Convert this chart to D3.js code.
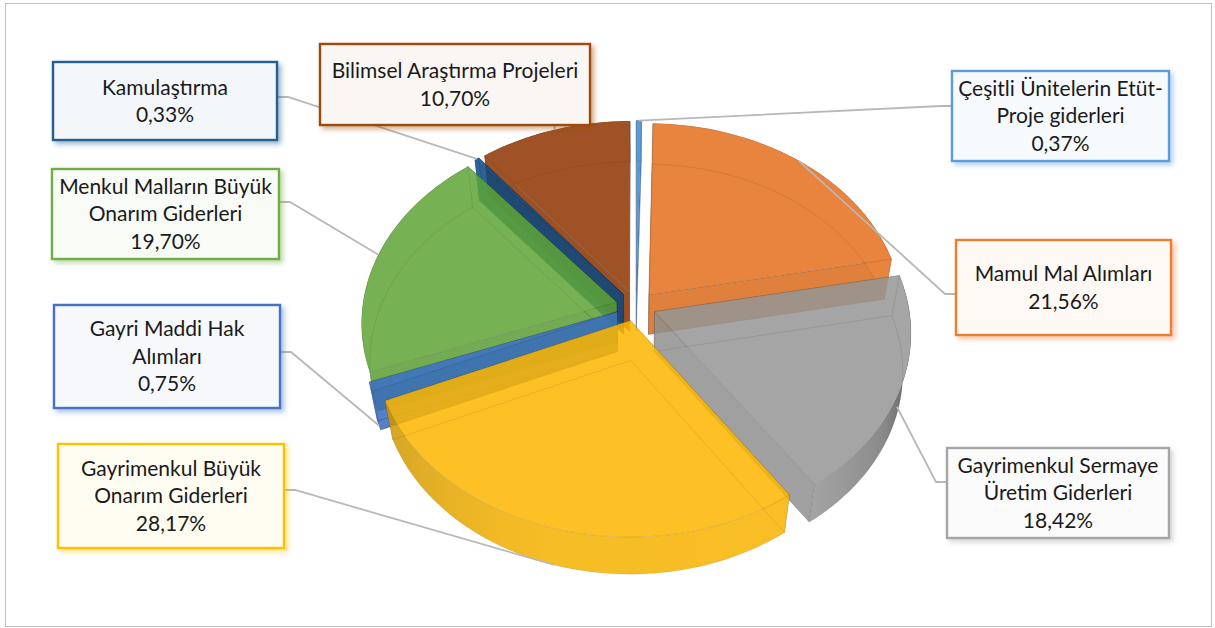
<!DOCTYPE html>
<html lang="en">
<head>
  <meta charset="utf-8" />
  <title>Yatırım Giderleri</title>
  <style>
    html, body { margin: 0; height: 100%; background: #fff; }
    svg { display: block; }
    text { font-family: Lato, "Noto Sans", sans-serif; font-size: 21px; fill: #1a1a1a; text-anchor: middle; }
  </style>
  <script src="https://cdn.jsdelivr.net/npm/d3@7"></script>
</head>
<body>
<script>
// Slices, clockwise from twelve o'clock
const names = [
  ["Çeşitli Ünitelerin Etüt-", "Proje giderleri"],
  ["Mamul Mal Alımları"],
  ["Gayrimenkul Sermaye", "Üretim Giderleri"],
  ["Gayrimenkul Büyük", "Onarım Giderleri"],
  ["Gayri Maddi Hak", "Alımları"],
  ["Menkul Malların Büyük", "Onarım Giderleri"],
  ["Kamulaştırma"],
  ["Bilimsel Araştırma Projeleri"],
];
const values = [0.37, 21.56, 18.42, 28.17, 0.75, 19.70, 0.33, 10.70];
const faceColors = ["#3e89ce", "#e46f1d", "#959695", "#fdb700", "#3a70c8", "#5fa437", "#0a4a86", "#8f3500"];
const borderColors = ["#5b9bd5", "#ed7d31", "#a5a5a5", "#ffc000", "#4472c4", "#70ad47", "#255e91", "#9e480e"];

// back to front
const drawOrder = [0, 1, 7, 6, 5, 4, 2, 3];

// label layout: x, y, w, h
const boxes = [
  [952, 71, 217, 90],
  [956, 240, 215, 95],
  [947, 448, 222, 90],
  [58, 444, 226, 104],
  [54, 305, 226, 103],
  [52, 169, 227, 90],
  [53, 62, 224, 78],
  [320, 44, 270, 81],
];
const leaderY = [106, 294, 482, 490, 352, 202, 97, 0];
const leaderZ = [0, 0, 0.5, 1, 1, 0, 0, 0];

const width = 1215, height = 628;
const cx = 636, cy = 306;
const R = 254, EXPLODE = 20;
const TILT = 0.752, PERSP = 0.103, DEPTH = 41, ZPERSP = 0.03;

const svg = d3.select("body").append("svg").attr("width", width).attr("height", height);
const defs = svg.append("defs");

svg.append("rect")
  .attr("x", 5.5).attr("y", 3.5).attr("width", 1206).attr("height", 623)
  .attr("fill", "#fff").attr("stroke", "#bfbfbf");

const arcs = d3.pie().sort(null).value(d => d)(values);
const line = d3.line();
const toDeg = 180 / Math.PI;

// pie plane -> screen, a is clockwise from north, z = 0 top face, z = 1 bottom face
function project(d, a, r, z) {
  const mid = (d.startAngle + d.endAngle) / 2;
  const X = r * Math.sin(a) + EXPLODE * Math.sin(mid);
  const Y = r * Math.cos(a) + EXPLODE * Math.cos(mid);
  const w = 1 + PERSP * Y / R + ZPERSP * z;
  return [cx + X / w, cy + (-Y * TILT + z * DEPTH) / w];
}

function rim(d, z) {
  const n = Math.max(2, Math.ceil((d.endAngle - d.startAngle) / 0.03));
  return d3.range(n + 1).map(i => {
    const a = d.startAngle + (d.endAngle - d.startAngle) * i / n;
    return project(d, a, R, z);
  });
}

// outer wall gets darker towards the sides of the pie
const wallShade = d3.scaleLinear()
  .domain([90, 100, 122, 145, 200, 245, 270])
  .range([0.3, 0.34, 0.78, 0.98, 0.97, 0.82, 0.75])
  .clamp(true);

function shaded(color, deg) {
  const c = d3.rgb(color), s = wallShade(deg);
  return d3.rgb(c.r * s, c.g * s, c.b * s).formatHex();
}

// gradient along x for the part of the wall that faces the viewer
function wallFill(d, i, color) {
  const from = Math.max(d.startAngle, Math.PI / 2);
  const to = Math.min(d.endAngle, Math.PI * 1.5);
  if (to <= from) return color;
  const x0 = project(d, from, R, 0)[0], x1 = project(d, to, R, 0)[0];
  const id = `wall-${i}`;
  const grad = defs.append("linearGradient").attr("id", id)
    .attr("gradientUnits", "userSpaceOnUse")
    .attr("x1", x0).attr("x2", x1).attr("y1", 0).attr("y2", 0);
  d3.range(13).forEach(k => {
    const a = from + (to - from) * k / 12;
    grad.append("stop")
      .attr("offset", (project(d, a, R, 0)[0] - x0) / (x1 - x0))
      .attr("stop-color", shaded(color, a * toDeg));
  });
  return `url(#${id})`;
}

drawOrder.forEach(i => {
  const d = arcs[i];
  const color = faceColors[i];
  const g = svg.append("g").attr("opacity", 0.85);
  const apex = z => project(d, 0, 0, z);
  const a0 = d.startAngle, a1 = d.endAngle;

  // cut faces
  [a0, a1].forEach(a => {
    g.append("path")
      .attr("d", line([apex(0), project(d, a, R, 0), project(d, a, R, 1), apex(1)]) + "Z")
      .attr("fill", d3.color(color).darker(0.12))
      .attr("stroke", "rgba(0,0,0,0.25)").attr("stroke-width", 0.7);
  });

  // outer wall
  const top = rim(d, 0), bottom = rim(d, 1);
  g.append("path")
    .attr("d", line([...top, ...bottom.slice().reverse()]) + "Z")
    .attr("fill", wallFill(d, i, color));

  // top face
  g.append("path")
    .attr("d", line([apex(0), ...top]) + "Z")
    .attr("fill", color)
    .attr("stroke", "rgba(0,0,0,0.18)").attr("stroke-width", 0.7);

  // edges of the far faces, seen through the top
  g.append("path")
    .attr("d", line([project(d, a0, R, 1), apex(1), project(d, a1, R, 1)]))
    .attr("fill", "none").attr("stroke", "rgba(0,0,0,0.1)");
  g.append("path")
    .attr("d", line(bottom))
    .attr("fill", "none").attr("stroke", "rgba(0,0,0,0.1)");
  [a0, a1].forEach(a => {
    g.append("path")
      .attr("d", line([project(d, a, R, 0), project(d, a, R, 1)]))
      .attr("fill", "none").attr("stroke", "rgba(0,0,0,0.1)");
  });
});

// leader lines
arcs.forEach((d, i) => {
  const [x, y, w, h] = boxes[i];
  const mid = (d.startAngle + d.endAngle) / 2;
  const end = project(d, mid, R, leaderZ[i]);
  let pts;
  if (i === 7) {
    pts = [[x + w * 0.87, y + h], end];
  } else {
    const left = x > cx;
    const edge = left ? x : x + w;
    const elbow = left ? x - 11 : x + w + 11;
    pts = [[edge, leaderY[i]], [elbow, leaderY[i]], end];
  }
  svg.append("path")
    .attr("d", line(pts))
    .attr("fill", "none")
    .attr("stroke", "#b8b8b8")
    .attr("stroke-width", 1.8);
});

// labels
const pct = d3.format(".2f");
arcs.forEach((d, i) => {
  const [x, y, w, h] = boxes[i];
  const filterId = `shadow-${i}`;
  const f = defs.append("filter").attr("id", filterId)
    .attr("x", "-10%").attr("y", "-10%").attr("width", "120%").attr("height", "130%");
  f.append("feDropShadow")
    .attr("dx", 3).attr("dy", 3).attr("stdDeviation", 2.5)
    .attr("flood-color", borderColors[i]).attr("flood-opacity", 0.45);

  svg.append("rect")
    .attr("x", x).attr("y", y).attr("width", w).attr("height", h)
    .attr("fill", d3.interpolateRgb(borderColors[i], "#fff")(0.95))
    .attr("stroke", borderColors[i])
    .attr("stroke-width", 2.4)
    .attr("filter", `url(#${filterId})`);

  const lines = [...names[i], pct(values[i]).replace(".", ",") + "%"];
  const lh = 27.6;
  lines.forEach((t, k) => {
    svg.append("text")
      .attr("x", x + w / 2)
      .attr("y", y + h / 2 + (k - (lines.length - 1) / 2) * lh)
      .attr("dy", "0.35em")
      .text(t);
  });
});
</script>
</body>
</html>
